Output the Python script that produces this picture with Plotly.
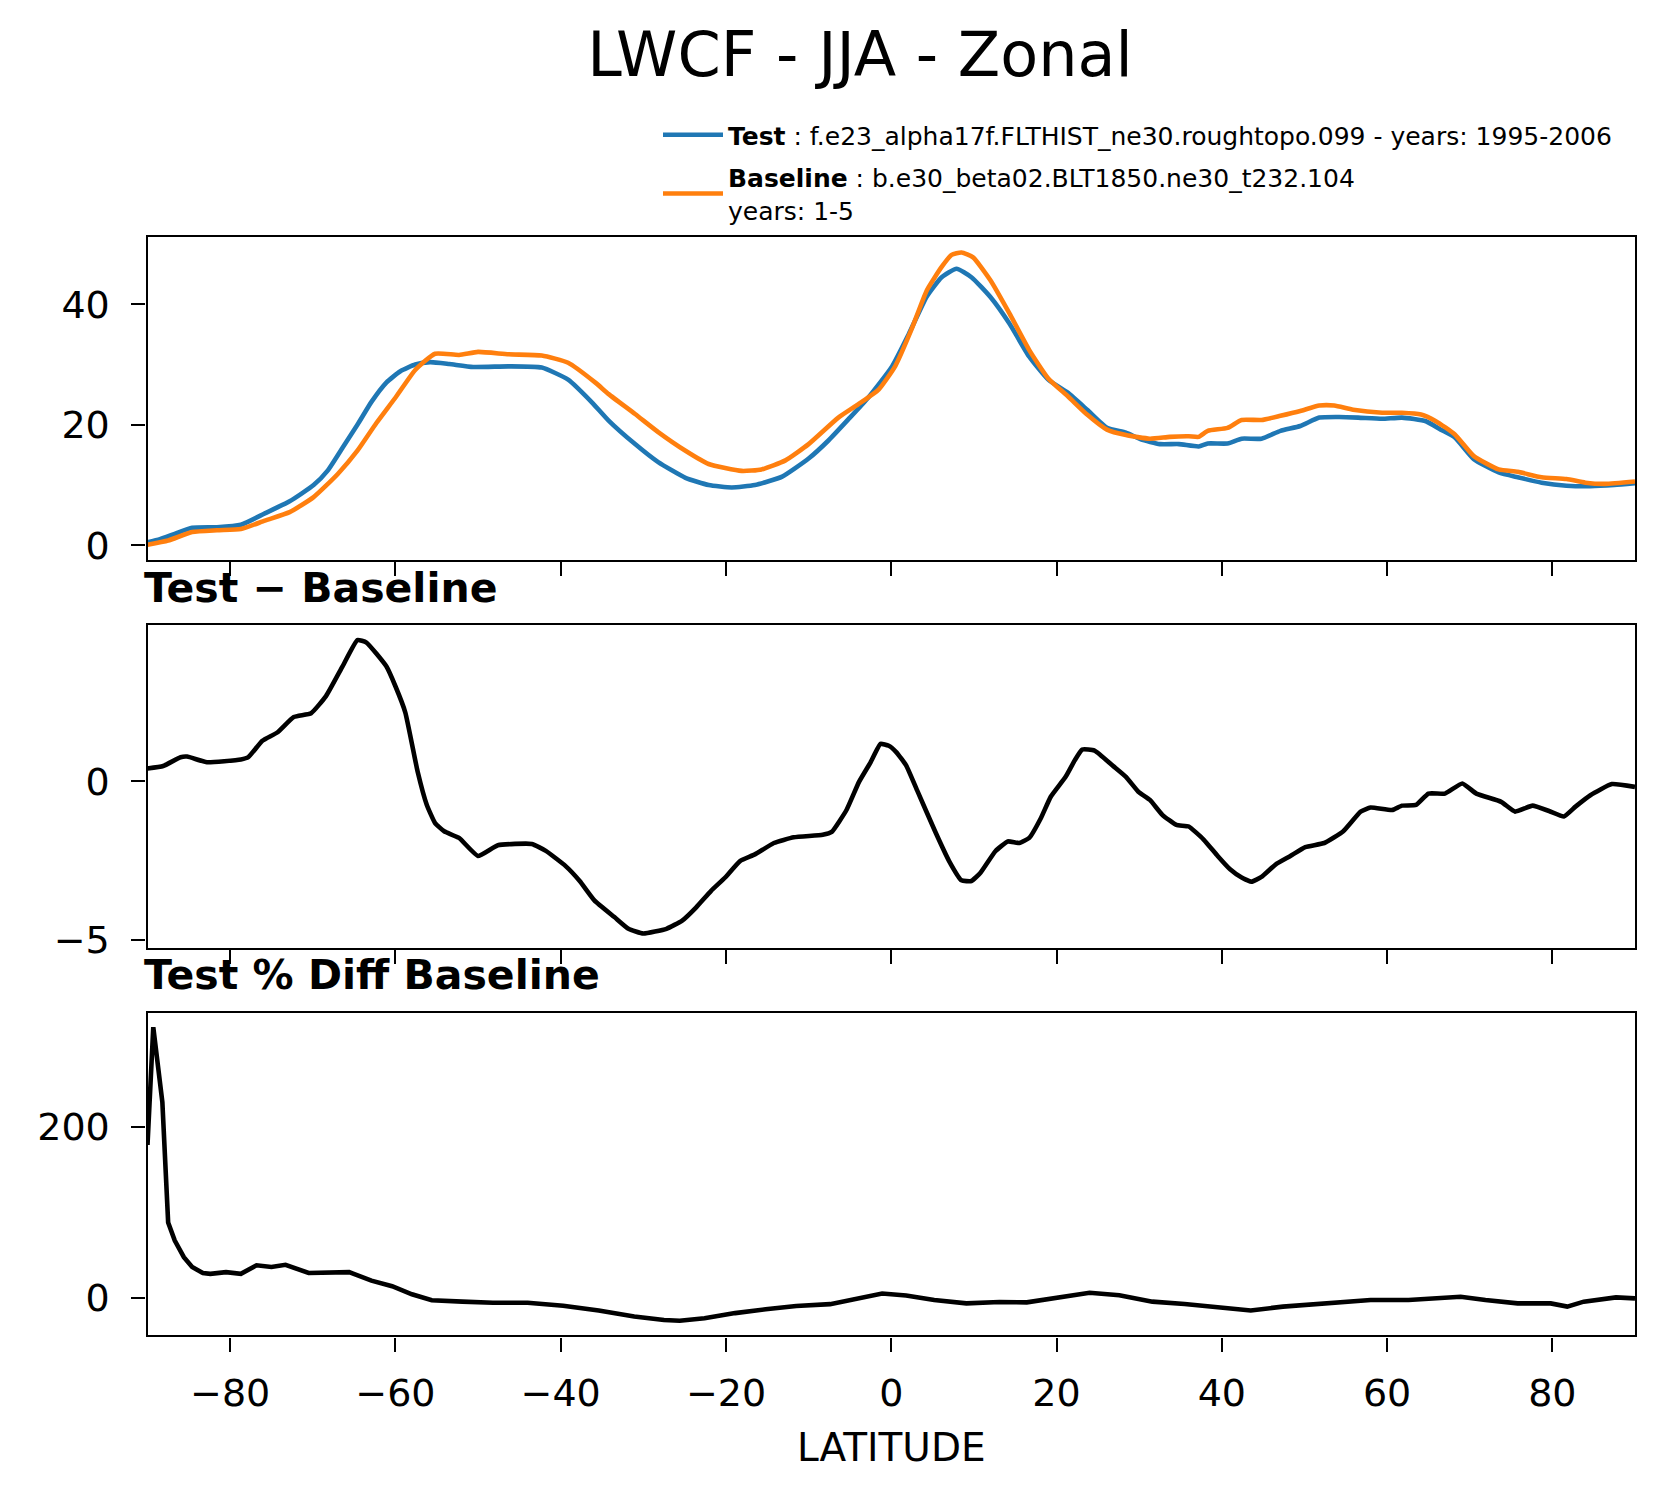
import plotly.graph_objects as go

# ---------------- data ----------------
title_text = "LWCF - JJA - Zonal"
test_label = "<b>Test</b> : f.e23_alpha17f.FLTHIST_ne30.roughtopo.099 - years: 1995-2006"
base_label = "<b>Baseline</b> : b.e30_beta02.BLT1850.ne30_t232.104<br>years: 1-5"
diff_title = "<b>Test − Baseline</b>"
pct_title = "<b>Test % Diff Baseline</b>"
x_title = "LATITUDE"

lat_test = [-90, -88.5, -86.7, -84.6, -81.6, -78.7, -75.8, -72.8, -69.9, -68.2,
            -66.4, -64.6, -62.9, -61.1, -59.4, -57.6, -55.8, -53.5, -50.6, -46.3,
            -42.3, -39.1, -36.2, -34.2, -31.0, -28.2, -24.9, -22.1, -19.3, -16.5,
            -13.2, -10.0, -7.6, -5.2, -2.8, 0.1, 2.1, 4.3, 6.1,
            7.9, 9.7, 12.0, 14.3, 16.7, 19.0, 21.4, 23.7, 26.1, 28.4,
            30.2, 32.5, 34.8, 37.2, 38.3, 40.7, 42.4, 44.8, 47.1, 49.5,
            51.8, 54.2, 56.5, 59.4, 61.8, 64.7, 66.5, 68.2, 70.5, 73.5,
            75.8, 78.7, 81.7, 84.6, 87.5, 90]
test = [0.5, 1.0, 1.9, 2.9, 3.0, 3.4, 5.3, 7.3, 10.0, 12.4,
        16.2, 20.0, 23.8, 27.0, 28.9, 30.0, 30.4, 30.1, 29.6, 29.7,
        29.5, 27.5, 23.7, 20.7, 16.8, 13.8, 11.2, 10.0, 9.6, 10.0,
        11.4, 14.4, 17.4, 20.9, 24.5, 29.7, 35.0, 41.3, 44.5,
        45.9, 44.5, 41.2, 36.8, 31.3, 27.5, 25.3, 22.5, 19.5, 18.7,
        17.6, 16.8, 16.8, 16.4, 16.9, 16.9, 17.7, 17.7, 19.0, 19.8,
        21.2, 21.3, 21.2, 21.0, 21.2, 20.6, 19.2, 17.9, 14.3, 12.1,
        11.3, 10.4, 9.9, 9.8, 10.0, 10.3]

lat_base = [-90, -87.5, -84.6, -81.6, -78.7, -75.8, -72.8, -69.9, -67.0, -64.6,
            -62.3, -59.9, -57.6, -55.2, -52.3, -50.0, -46.3, -42.3, -39.1, -35.8,
            -34.2, -31.0, -28.2, -24.9, -22.1, -18.1, -15.7, -12.8, -10.0, -6.4,
            -4.0, -1.5, 0.5, 2.5, 4.3, 6.1, 7.3, 8.5, 9.9, 12.0,
            14.3, 16.7, 19.0, 21.4, 23.7, 26.1, 28.4, 31.3, 33.7, 36.0,
            37.2, 38.3, 40.7, 42.4, 44.8, 47.1, 49.5, 51.8, 53.6, 55.9,
            59.4, 61.8, 64.1, 65.9, 68.2, 70.5, 73.5, 75.8, 78.7, 81.7,
            84.0, 86.4, 90]
base = [0.1, 0.8, 2.2, 2.5, 2.7, 4.1, 5.5, 8.0, 11.8, 15.7,
        20.3, 24.7, 29.1, 31.8, 31.6, 32.1, 31.7, 31.5, 30.3, 27.0,
        25.1, 21.8, 18.8, 15.7, 13.5, 12.35, 12.6, 14.1, 16.8, 21.2,
        23.4, 25.9, 29.8, 36.0, 42.3, 46.2, 48.2, 48.6, 47.8, 44.0,
        38.5, 32.4, 27.7, 24.7, 21.7, 19.2, 18.3, 17.7, 18.0, 18.1,
        18.0, 19.0, 19.5, 20.8, 20.8, 21.5, 22.3, 23.2, 23.2, 22.5,
        22.0, 22.0, 21.7, 20.6, 18.4, 14.8, 12.6, 12.2, 11.3, 11.0,
        10.4, 10.2, 10.6]

lat_diff = [-90, -88.1, -86.0, -85.2, -82.8, -78.7, -77.8, -76.1, -74.3, -72.3,
            -70.2, -68.4, -66.4, -64.6, -63.5, -61.1, -60.0, -58.8, -57.3, -56.2,
            -55.2, -54.1, -52.3, -50.0, -47.6, -43.5, -41.8, -39.4, -37.7, -35.9,
            -33.5, -31.8, -30.0, -27.2, -25.3, -23.6, -21.8, -20.1, -18.3, -16.5,
            -14.2, -11.8, -8.3, -7.2, -5.4, -3.9, -2.5, -1.3, -0.3, 0.6,
            1.8, 3.2, 5.3, 7.0, 8.5, 9.7, 10.8, 12.6, 14.1, 15.5,
            16.7, 18.1, 19.3, 21.1, 22.2, 23.1, 24.6, 26.9, 28.4, 29.9,
            31.3, 32.8, 34.5, 36.0, 37.8, 39.5, 41.0, 42.4, 43.6, 44.8,
            46.5, 48.3, 50.1, 52.4, 54.7, 56.8, 58.0, 60.6, 61.8, 63.5,
            65.0, 67.0, 69.1, 70.8, 73.8, 75.5, 77.6, 79.6, 81.4, 82.8,
            84.6, 87.2, 90]
diff = [0.40, 0.48, 0.76, 0.78, 0.60, 0.69, 0.76, 1.28, 1.54, 2.03,
        2.15, 2.69, 3.63, 4.46, 4.38, 3.63, 3.00, 2.17, 0.29, -0.75,
        -1.32, -1.58, -1.79, -2.36, -2.02, -1.98, -2.20, -2.68, -3.15, -3.77,
        -4.29, -4.66, -4.81, -4.66, -4.40, -3.98, -3.46, -3.04, -2.52, -2.31,
        -1.95, -1.77, -1.69, -1.60, -0.90, -0.02, 0.60, 1.18, 1.12, 0.92,
        0.50, -0.33, -1.58, -2.52, -3.13, -3.15, -2.89, -2.21, -1.90, -1.95,
        -1.79, -1.17, -0.49, 0.14, 0.66, 1.00, 0.97, 0.47, 0.14, -0.33,
        -0.59, -1.06, -1.38, -1.43, -1.84, -2.36, -2.78, -3.04, -3.17, -3.02,
        -2.63, -2.36, -2.08, -1.95, -1.58, -0.96, -0.83, -0.91, -0.77, -0.75,
        -0.39, -0.39, -0.07, -0.39, -0.65, -0.96, -0.77, -0.94, -1.11, -0.80,
        -0.44, -0.09, -0.18]

lat_pct = [-90, -89.3, -88.2, -87.5, -86.7, -85.6, -84.6, -83.3, -82.4, -80.5,
           -78.7, -76.8, -75.0, -73.3, -70.5, -67.8, -65.6, -62.9, -60.4, -58.0,
           -55.6, -51.9, -48.2, -44.0, -39.7, -35.4, -31.1, -27.5, -25.6, -22.6,
           -18.9, -15.2, -11.5, -7.4, -4.1, -1.1, 1.8, 5.2, 9.1, 13.1,
           16.4, 20.3, 24.0, 27.6, 31.6, 35.5, 40.2, 43.5, 47.4, 53.4,
           58.0, 62.6, 65.3, 68.9, 71.9, 75.8, 79.8, 81.8, 83.8, 87.7,
           90]
pct = [179, 317, 229, 88, 67, 47.5, 36, 29, 28, 30,
       28, 38, 36, 38.6, 29, 29, 30, 20, 13.5, 4,
       -3, -4.6, -5.8, -5.8, -9.3, -15, -22, -26, -27, -24,
       -18, -13.5, -9.7, -7.5, -0.8, 5, 2.7, -2.7, -6.6, -5,
       -5.4, 0, 5.8, 3, -4.6, -7.3, -12.4, -15, -10.4, -6.6,
       -2.7, -2.7, -1.5, 1.2, -2.7, -6.6, -6.6, -10.4, -4.6, 0.4,
       -0.8]

x_ticks = [-80, -60, -40, -20, 0, 20, 40, 60, 80]
y1_ticks = [0, 20, 40]
y2_ticks = [-5, 0]
y3_ticks = [0, 200]

# ---------------- figure ----------------
W, H = 1656, 1496
FONT = "DejaVu Sans"
BLUE, ORANGE = "#1f77b4", "#ff7f0e"
LW = 4.6


def px_x(p):
    return p / W


def px_y(p):
    return 1 - p / H


xdom = [px_x(139.5), px_x(1627)]

fig = go.Figure()
fig.add_trace(go.Scatter(x=lat_test, y=test, mode="lines", name=test_label,
                         legendgroup="test",
                         line=dict(color=BLUE, width=LW, shape="spline", smoothing=0.5),
                         xaxis="x", yaxis="y"))
fig.add_trace(go.Scatter(x=lat_base, y=base, mode="lines", name=base_label,
                         legendgroup="base",
                         line=dict(color=ORANGE, width=LW, shape="spline", smoothing=0.5),
                         xaxis="x", yaxis="y"))
fig.add_trace(go.Scatter(x=lat_diff, y=diff, mode="lines", showlegend=False,
                         line=dict(color="black", width=LW, shape="spline", smoothing=0.4),
                         xaxis="x2", yaxis="y2"))
fig.add_trace(go.Scatter(x=lat_pct, y=pct, mode="lines", showlegend=False,
                         line=dict(color="black", width=LW),
                         xaxis="x3", yaxis="y3"))

common = dict(showline=True, linecolor="black", linewidth=2.2, mirror=True,
              ticks="outside", ticklen=14, tickwidth=2.2, tickcolor="black",
              showgrid=False, zeroline=False,
              tickfont=dict(family=FONT, size=38, color="black"))
xcommon = dict(common, ticklabelstandoff=9)
ycommon = dict(common, ticklabelstandoff=14)

fig.update_layout(
    width=W, height=H,
    margin=dict(l=0, r=0, t=0, b=0),
    paper_bgcolor="white", plot_bgcolor="white",
    font=dict(family=FONT, color="black"),
    title=dict(text=title_text, x=px_x(852), xanchor="center",
               y=px_y(46), yanchor="middle",
               font=dict(family=FONT, size=62, color="black")),
    showlegend=True,
    legend=dict(x=px_x(650), y=px_y(105), xanchor="left", yanchor="top",
                font=dict(family=FONT, size=25, color="black"),
                bgcolor="rgba(0,0,0,0)", itemwidth=60,
                traceorder="grouped", tracegroupgap=7),
    xaxis=dict(domain=xdom, range=[-90, 90], tickvals=x_ticks, showticklabels=False,
               anchor="y", **xcommon),
    xaxis2=dict(domain=xdom, range=[-90, 90], tickvals=x_ticks, showticklabels=False,
                anchor="y2", **xcommon),
    xaxis3=dict(domain=xdom, range=[-90, 90], tickvals=x_ticks, showticklabels=True,
                anchor="y3",
                title=dict(text=x_title, font=dict(family=FONT, size=39, color="black"),
                           standoff=20),
                **xcommon),
    yaxis=dict(domain=[px_y(557.3), px_y(231)], range=[-2.45, 51.2], tickvals=y1_ticks,
               anchor="x", **ycommon),
    yaxis2=dict(domain=[px_y(949), px_y(623.3)], range=[-5.27, 4.92], tickvals=y2_ticks,
                anchor="x2", **ycommon),
    yaxis3=dict(domain=[px_y(1340), px_y(1014)], range=[-44.2, 334.2], tickvals=y3_ticks,
                anchor="x3", **ycommon),
    annotations=[
        dict(text=diff_title, xref="paper", yref="paper", x=px_x(134), y=px_y(585),
             xanchor="left", yanchor="middle", showarrow=False,
             font=dict(family=FONT, size=41, color="black")),
        dict(text=pct_title, xref="paper", yref="paper", x=px_x(134), y=px_y(976),
             xanchor="left", yanchor="middle", showarrow=False,
             font=dict(family=FONT, size=41, color="black")),
    ],
)

fig.write_html("out.html")
